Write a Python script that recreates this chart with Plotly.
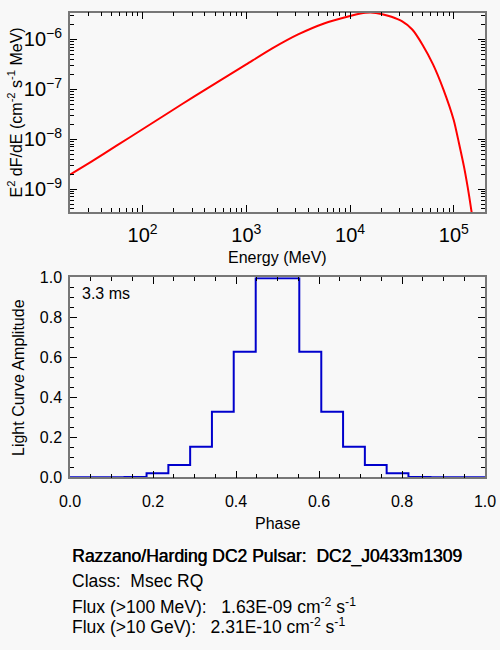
import plotly.graph_objects as go

# spectrum
energy_mev = [20, 31.6, 56.2, 100, 178, 316, 562, 1000, 1780, 3160, 5620,
              10000, 12600, 14100, 15800, 17800, 20000, 25100, 31600, 39800,
              50100, 63100, 79400, 100000, 112000, 126000, 141000, 158000]
e2_dfde = [1.95e-9, 3.47e-9, 7.41e-9, 1.58e-8, 3.39e-8, 7.24e-8, 1.51e-7,
           3.16e-7, 6.61e-7, 1.26e-6, 2.09e-6, 2.95e-6, 3.31e-6, 3.43e-6,
           3.47e-6, 3.39e-6, 3.24e-6, 2.85e-6, 2.32e-6, 1.58e-6, 7.76e-7,
           3.16e-7, 1.0e-7, 2.40e-8, 8.51e-9, 2.69e-9, 7.08e-10, 1.48e-10]

# light curve bins
phase = [0.0, 0.053, 0.105, 0.158, 0.211, 0.263, 0.316, 0.368, 0.421, 0.474,
         0.526, 0.579, 0.632, 0.684, 0.737, 0.789, 0.842, 0.895, 0.947, 1.0]
amplitude = [0, 0, 0, 0.002, 0.02, 0.062, 0.153, 0.328, 0.628, 0.995,
             0.995, 0.628, 0.328, 0.153, 0.062, 0.02, 0.002, 0, 0, 0]

period_label = "3.3 ms"
info_lines = [
    "Razzano/Harding DC2 Pulsar:\u00a0\u00a0DC2_J0433m1309",
    "Class:\u00a0\u00a0Msec RQ",
    "Flux (>100 MeV):\u00a0\u00a0\u00a01.63E-09 cm<sup>-2</sup> s<sup>-1</sup>",
    "Flux (>10 GeV):\u00a0\u00a0\u00a02.31E-10 cm<sup>-2</sup> s<sup>-1</sup>",
]

W, H = 500, 650
bg = "#f8f8f8"


def px(x):
    return x / W


def py(y):
    return 1 - y / H


frame = dict(showline=True, linecolor="#777777", linewidth=1.5, mirror="ticks",
             ticks="inside", ticklen=7, tickcolor="black", tickwidth=1,
             showgrid=False, zeroline=False, automargin=False,
             tickfont=dict(size=16, color="black"))

fig = go.Figure()
fig.add_trace(go.Scatter(x=energy_mev, y=e2_dfde, mode="lines",
                         line=dict(color="#ff0000", width=2, shape="spline", smoothing=0.6),
                         xaxis="x", yaxis="y", hoverinfo="skip"))
fig.add_trace(go.Scatter(x=phase, y=amplitude, mode="lines",
                         line=dict(color="#0000cc", width=2, shape="hvh"),
                         xaxis="x2", yaxis="y2", hoverinfo="skip"))

fig.update_layout(
    width=W, height=H,
    margin=dict(l=0, r=0, t=0, b=0, autoexpand=False),
    paper_bgcolor=bg, plot_bgcolor=bg,
    showlegend=False,
    font=dict(family="Liberation Sans, Arial, sans-serif", size=16, color="black"),
    xaxis=dict(frame, type="log", domain=[px(70), px(485)], range=[1.30103, 5.30103],
               dtick=1, exponentformat="power", anchor="y", ticklabelstandoff=5,
               minor=dict(ticks="inside", ticklen=4, tickcolor="black", showgrid=False)),
    yaxis=dict(frame, type="log", domain=[py(212), py(12.5)], range=[-9.46, -5.46],
               dtick=1, exponentformat="power", anchor="x", ticklabelstandoff=3,
               minor=dict(ticks="inside", ticklen=4, tickcolor="black", showgrid=False)),
    xaxis2=dict(frame, domain=[px(70), px(485)], range=[0, 1], dtick=0.2,
                tickformat=".1f", anchor="y2", ticklabelstandoff=9,
                minor=dict(ticks="inside", ticklen=4, dtick=0.05, tickcolor="black")),
    yaxis2=dict(frame, domain=[py(477.3), py(277.3)], range=[0, 1], dtick=0.2,
                tickformat=".1f", anchor="x2", ticklabelstandoff=3,
                minor=dict(ticks="inside", ticklen=4, dtick=0.05, tickcolor="black")),
)

notes = [
    dict(text="Energy (MeV)", x=px(277.5), y=py(257), xanchor="center", yanchor="middle"),
    dict(text="Phase", x=px(277.5), y=py(523), xanchor="center", yanchor="middle"),
    dict(text="E<sup>2</sup> dF/dE (cm<sup>-2</sup> s<sup>-1</sup> MeV)", x=px(15), y=py(112.5),
         textangle=-90, xanchor="center", yanchor="middle"),
    dict(text="Light Curve Amplitude", x=px(18), y=py(378), textangle=-90,
         xanchor="center", yanchor="middle"),
    dict(text=period_label, x=px(80), y=py(293), xanchor="left", yanchor="middle"),
]
info_y = [556, 581, 606, 626]
for i, (line, yy) in enumerate(zip(info_lines, info_y)):
    f = dict(size=17.5)
    if i == 0:
        f["shadow"] = "0.5px 0px 0px #000000"
    notes.append(dict(text=line, x=px(70), y=py(yy), xanchor="left", yanchor="middle", font=f))

for n in notes:
    n.update(xref="paper", yref="paper", showarrow=False)
    fig.add_annotation(**n)

# the page's default body margin would push the figure 8px off
fig.write_html("out.html", config={"displayModeBar": False},
               post_script="document.body.style.margin='0';")
